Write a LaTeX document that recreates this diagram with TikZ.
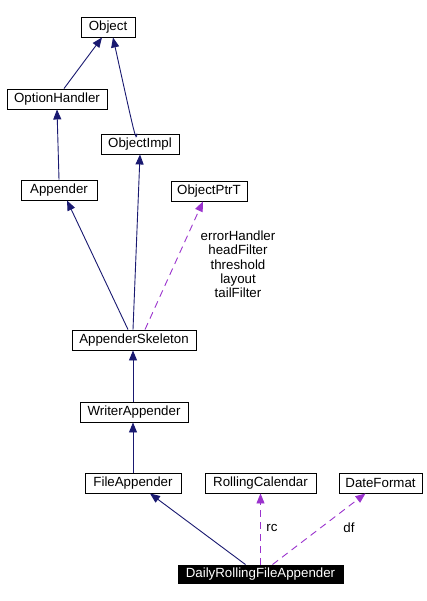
\documentclass[tikz,border=0pt]{standalone}
\usepackage{fontspec}
\setmainfont{Liberation Sans}
\usetikzlibrary{arrows.meta}
\definecolor{inh}{HTML}{191970}
\definecolor{use}{HTML}{9A32CD}
\begin{document}
\begin{tikzpicture}[x=1pt,y=-1pt,
  cls/.style={draw=black,line width=0.9pt,fill=white,inner sep=0pt,minimum height=20pt,font=\fontsize{13.3}{15}\selectfont},
  inhedge/.style={draw=inh,line width=0.9pt,-{Triangle[length=10pt,width=8pt]}},
  useedge/.style={draw=use,line width=0.9pt,dash pattern=on 7pt off 5pt,-{Triangle[length=10pt,width=8pt]}},
  lbl/.style={font=\fontsize{13.3}{14.3}\selectfont,inner sep=0pt,align=center}]
\useasboundingbox (0,0) rectangle (426,601);
\node[cls,minimum width=54pt] (object) at (108,27) {Object};
\node[cls,minimum width=100pt] (opth) at (57,99) {OptionHandler};
\node[cls,minimum width=78pt] (oimpl) at (140,144) {ObjectImpl};
\node[cls,minimum width=76pt] (app) at (59,190) {Appender};
\node[cls,minimum width=76pt] (optr) at (209,191) {ObjectPtrT};
\node[cls,minimum width=124pt] (skel) at (134,340) {AppenderSkeleton};
\node[cls,minimum width=108pt] (wapp) at (134,412) {WriterAppender};
\node[cls,minimum width=96pt] (fapp) at (133,483) {FileAppender};
\node[cls,minimum width=111pt] (rcal) at (260.5,483) {RollingCalendar};
\node[cls,minimum width=83pt] (dfmt) at (380.5,483) {DateFormat};
\node[cls,minimum width=165pt,minimum height=18pt,fill=black,text=white] (drfa) at (260.5,574) {DailyRollingFileAppender};

\draw[inhedge] ([xshift=7pt]opth.north) -- ([xshift=-6pt]object.south);
\draw[inhedge] ([xshift=-3pt]oimpl.north) .. controls ([xshift=-4pt,yshift=-8pt]oimpl.north) .. ([xshift=5pt]object.south);
\draw[inhedge] (app.north) -- (opth.south);
\draw[inhedge] ([xshift=-6pt]skel.north) -- ([xshift=8pt]app.south);
\draw[inhedge] ([xshift=-1pt]skel.north) -- (oimpl.south);
\draw[useedge] ([xshift=11pt]skel.north) -- ([xshift=-6pt]optr.south);
\node[lbl] (lblskel) at (238,264.5) {errorHandler\\headFilter\\threshold\\layout\\tailFilter};
\draw[inhedge] ([xshift=-1pt]wapp.north) -- ([xshift=-1pt]skel.south);
\draw[inhedge] (fapp.north) -- ([xshift=-1pt]wapp.south);
\draw[inhedge] ([xshift=-15pt]drfa.north) -- ([xshift=17pt]fapp.south);
\draw[useedge] (drfa.north) -- (rcal.south);
\node[lbl] (lblrc) at (272,528) {rc};
\draw[useedge] ([xshift=12pt]drfa.north) -- ([xshift=-15pt]dfmt.south);
\node[lbl] (lbldf) at (349,528) {df};
\end{tikzpicture}
\end{document}
